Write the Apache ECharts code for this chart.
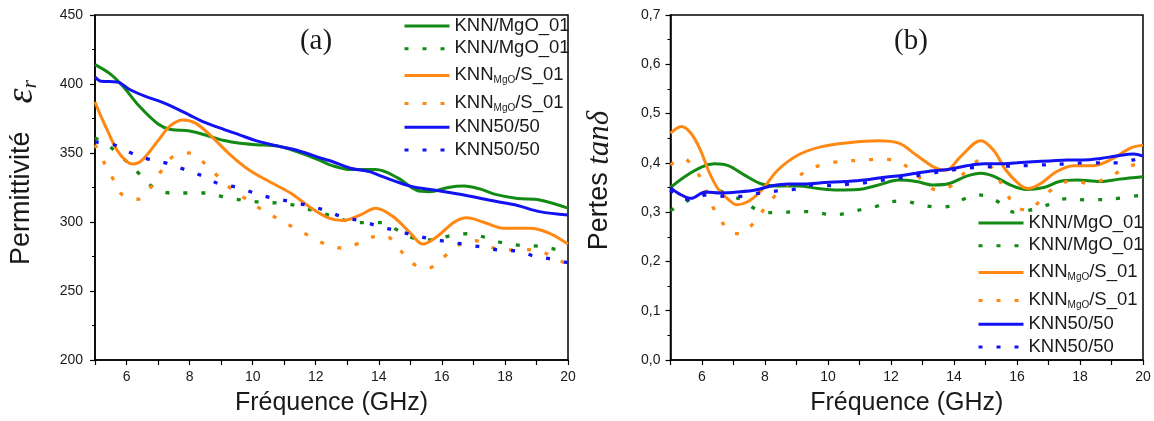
<!DOCTYPE html>
<html><head><meta charset="utf-8">
<script src="https://cdn.jsdelivr.net/npm/echarts@6/dist/echarts.min.js"></script>
<style>html,body{margin:0;padding:0;background:#fff}#c{width:1154px;height:421px}</style>
</head><body><div id="c"></div>
<script>
// ---------- Panel (a): permittivity ----------
const fEpsMgO = [5, 5.5, 5.9, 6.4, 7.0, 7.4, 8.0, 8.5, 9.1, 9.6, 10.1, 10.8, 11.4, 12.2, 12.5, 13.1, 13.9, 14.6, 15.2, 15.6, 16.2, 16.7, 17.2, 17.7, 18.4, 19.1, 20];
const epsMgO = [414, 407, 398, 384, 371, 367, 366, 363, 359, 357, 356, 355, 351, 344, 341, 338, 338, 332, 323, 322, 325, 326, 324, 320, 317, 316, 310];

const fEpsMgODot = [5, 5.5, 5.95, 6.4, 6.8, 7.4, 8.0, 8.55, 9.1, 9.35, 9.95, 10.6, 11.15, 11.65, 12.25, 12.8, 13.3, 13.6, 14.1, 14.6, 15.15, 15.7, 16.25, 16.8, 17.35, 17.9, 18.5, 19.05, 19.65, 20];
const epsMgODot = [361, 354, 345, 335, 326, 321, 321, 321, 318, 317, 315, 314, 313, 310, 306, 302, 299.5, 299.5, 299.5, 294, 288, 287, 290, 291.5, 289, 285, 283, 282.5, 280, 278];

const fEpsKS = [5, 5.2, 5.4, 5.7, 6.0, 6.2, 6.5, 7.0, 7.4, 7.8, 8.2, 8.65, 9.3, 9.9, 10.55, 11.2, 11.8, 12.4, 12.85, 13.4, 13.9, 14.45, 15.0, 15.4, 15.85, 16.4, 16.8, 17.3, 17.95, 18.8, 19.4, 20];
const epsKS = [387, 376, 366, 352, 344, 342, 345, 359, 370, 374, 371.5, 363, 348.5, 337.5, 329, 321, 311, 303, 301, 305, 310, 304, 292, 284, 289.5, 300, 303, 300, 295.5, 295.5, 292, 284];

const fEpsKSDot = [5, 5.3, 5.6, 5.85, 6.35, 6.8, 7.1, 7.45, 8.0, 8.5, 8.9, 9.3, 9.8, 10.25, 10.75, 11.3, 11.75, 12.25, 12.85, 13.35, 13.6, 14.2, 14.6, 15.0, 15.55, 16.05, 16.5, 17.05, 17.6, 17.9, 18.5, 19.0, 19.5, 20];
const epsKSDot = [356, 342.5, 330, 320, 316.5, 326, 337, 347, 350, 342, 333, 324.5, 316.5, 309.5, 303, 296, 290.5, 284.5, 281, 284.5, 288, 290, 282, 271, 266.5, 274.5, 283, 286.5, 281.5, 279.5, 280, 279.5, 275, 269];

const fEps50 = [5, 5.2, 5.7, 6.1, 6.6, 7.1, 7.6, 8.0, 8.4, 9.1, 9.6, 10.1, 10.8, 11.4, 12.2, 12.5, 13.1, 13.7, 14.1, 15.0, 15.8, 16.7, 17.7, 18.4, 19.1, 20];
const eps50 = [405, 402, 401.5, 396, 391, 387, 382, 377.5, 373, 367, 363, 359, 355, 352, 346, 344, 339, 336.5, 333, 326, 323, 319.5, 315, 312, 307.5, 305];

const fEps50Dot = [5, 5.6, 6.15, 6.7, 7.3, 7.85, 8.45, 8.95, 9.55, 10.05, 10.6, 11.25, 11.75, 12.35, 12.8, 13.4, 14.05, 14.6, 15.1, 15.7, 16.25, 16.8, 17.35, 17.85, 18.4, 18.9, 19.5, 20];
const eps50Dot = [358, 356, 350, 345.5, 342.5, 338, 333, 327.5, 325, 321, 317.5, 314.5, 312, 308, 304, 301, 296.5, 293.5, 290.5, 287.5, 285.5, 283.5, 281.5, 279.5, 279, 275.5, 273, 270.5];

// ---------- Panel (b): losses ----------
const fTanMgO = [5, 5.45, 6.0, 6.4, 6.85, 7.35, 7.9, 8.4, 9.05, 9.7, 10.3, 10.95, 11.6, 12.25, 12.8, 13.35, 13.85, 14.4, 14.85, 15.25, 15.8, 16.3, 16.85, 17.35, 17.9, 18.65, 19.25, 20];
const tanMgO = [0.350, 0.372, 0.392, 0.398, 0.394, 0.375, 0.357, 0.353, 0.353, 0.348, 0.345, 0.346, 0.355, 0.365, 0.362, 0.355, 0.358, 0.373, 0.379, 0.373, 0.355, 0.346, 0.350, 0.362, 0.365, 0.362, 0.367, 0.372];

const fTanMgODot = [5, 5.35, 5.9, 6.5, 6.9, 7.3, 7.65, 8.05, 8.5, 8.95, 9.3, 9.75, 10.2, 10.65, 11.1, 11.55, 11.9, 12.4, 12.85, 13.3, 13.55, 13.95, 14.3, 14.75, 15.1, 15.45, 15.9, 16.3, 16.7, 17.1, 17.5, 18.2, 19.05, 20];
const tanMgODot = [0.303, 0.316, 0.335, 0.344, 0.332, 0.325, 0.308, 0.299, 0.299, 0.301, 0.301, 0.298, 0.294, 0.299, 0.306, 0.312, 0.320, 0.323, 0.316, 0.311, 0.310, 0.314, 0.326, 0.335, 0.331, 0.319, 0.300, 0.303, 0.308, 0.318, 0.327, 0.325, 0.327, 0.335];

const fTanKS = [5, 5.35, 5.65, 5.95, 6.2, 6.5, 6.85, 7.1, 7.45, 7.9, 8.4, 9.05, 9.8, 10.65, 11.6, 12.25, 12.8, 13.35, 13.75, 14.2, 14.85, 15.25, 15.65, 16.1, 16.35, 16.75, 17.25, 17.8, 18.4, 19.05, 19.6, 20];
const tanKS = [0.460, 0.474, 0.460, 0.426, 0.385, 0.348, 0.325, 0.315, 0.321, 0.345, 0.385, 0.416, 0.433, 0.441, 0.445, 0.440, 0.416, 0.392, 0.385, 0.412, 0.445, 0.426, 0.385, 0.355, 0.348, 0.358, 0.382, 0.394, 0.394, 0.409, 0.430, 0.436];

const fTanKSDot = [5, 5.4, 5.75, 6.0, 6.35, 6.6, 6.85, 7.2, 7.55, 7.85, 8.2, 8.6, 8.95, 9.3, 9.7, 10.1, 10.6, 11.1, 11.5, 11.9, 12.3, 12.7, 13.0, 13.45, 13.9, 14.25, 14.9, 15.25, 15.7, 15.95, 16.35, 16.7, 17.0, 17.45, 17.75, 18.3, 18.7, 19.1, 19.4, 20];
const tanKSDot = [0.396, 0.409, 0.389, 0.364, 0.310, 0.284, 0.262, 0.256, 0.272, 0.296, 0.325, 0.350, 0.365, 0.384, 0.394, 0.400, 0.404, 0.405, 0.407, 0.407, 0.401, 0.382, 0.365, 0.345, 0.353, 0.375, 0.407, 0.385, 0.335, 0.311, 0.304, 0.321, 0.341, 0.358, 0.365, 0.358, 0.365, 0.377, 0.390, 0.400];

const fTan50 = [5, 5.25, 5.65, 6.1, 6.6, 7.15, 7.7, 8.2, 8.75, 9.25, 9.9, 10.55, 11.15, 11.8, 12.4, 12.8, 13.35, 13.85, 14.4, 14.95, 15.45, 16.0, 16.5, 17.05, 17.6, 18.1, 18.65, 19.15, 19.7, 20];
const tan50 = [0.350, 0.338, 0.328, 0.341, 0.339, 0.341, 0.345, 0.353, 0.357, 0.357, 0.360, 0.362, 0.365, 0.371, 0.375, 0.379, 0.384, 0.387, 0.394, 0.398, 0.398, 0.400, 0.402, 0.404, 0.406, 0.406, 0.409, 0.414, 0.418, 0.414];

const fTan50Dot = [5, 5.3, 5.7, 6.15, 6.5, 6.9, 7.25, 7.75, 8.15, 8.6, 9.0, 9.4, 9.8, 10.25, 10.65, 11.2, 11.6, 12.25, 12.9, 13.9, 14.5, 15.5, 16.5, 17.6, 18.2, 19.3, 19.7, 20];
const tan50Dot = [0.345, 0.328, 0.326, 0.335, 0.333, 0.332, 0.332, 0.338, 0.341, 0.345, 0.347, 0.355, 0.354, 0.354, 0.357, 0.360, 0.364, 0.369, 0.375, 0.385, 0.390, 0.393, 0.395, 0.398, 0.400, 0.400, 0.406, 0.410];

// ---------- labels ----------
// each label: [main part, subscript, rest]
const legendLabels = [['KNN/MgO_01', '', ''], ['KNN/MgO_01', '', ''], ['KNN', 'MgO', '/S_01'], ['KNN', 'MgO', '/S_01'], ['KNN50/50', '', ''], ['KNN50/50', '', '']];
const panelTitles = ['(a)', '(b)'];
const xTitle = 'Fréquence (GHz)';

const GREEN = '#138a13', ORANGE = '#ff8812', BLUE = '#1212f2';
const TXT = '#1a1a1a';
const SANS = 'Liberation Sans, Arial, sans-serif';
const SERIF = 'Liberation Serif, Times New Roman, serif';

function pairs(f, v) { return f.map((x, i) => [x, v[i]]); }
function line(name, f, v, color, dotted, gi) {
  return {
    type: 'line', name, xAxisIndex: gi, yAxisIndex: gi, data: pairs(f, v),
    symbol: 'none', showSymbol: false, smooth: 0.35, silent: true,
    lineStyle: { color, width: dotted ? 3.3 : 3, type: dotted ? [4, 14] : 'solid' },
    itemStyle: { color }
  };
}
const namesA = ['a1', 'a2', 'a3', 'a4', 'a5', 'a6'];
const namesB = ['b1', 'b2', 'b3', 'b4', 'b5', 'b6'];
function fmtLegend(name) {
  const L = legendLabels[Number(name.slice(1)) - 1];
  if (!L[1]) return '{m|' + L[0] + '}';
  return '{m|' + L[0] + '}{s|' + L[1] + '}{m|' + L[2] + '}';
}
const legendText = {
  color: TXT, fontFamily: SANS, fontSize: 18.5,
  rich: {
    m: { fontSize: 18.5, fontFamily: SANS, color: TXT, lineHeight: 20, verticalAlign: 'top' },
    s: { fontSize: 10, fontFamily: SANS, color: TXT, lineHeight: 10, padding: [14, 0, 0, 0], verticalAlign: 'bottom' }
  }
};
function legend(data, left, top) {
  return {
    data, left, top, orient: 'vertical', itemWidth: 45, itemHeight: 14, itemGap: 3.8,
    selectedMode: false, formatter: fmtLegend, textStyle: legendText, padding: 0,
    itemStyle: { opacity: 0, borderWidth: 0 },
    lineStyle: { width: 3 }
  };
}
function xAxis(gi) {
  return {
    type: 'value', gridIndex: gi, min: 5, max: 20, interval: 1,
    name: xTitle, nameLocation: 'middle', nameGap: 31,
    nameTextStyle: { fontSize: 25, fontFamily: SANS, color: TXT },
    axisLine: { lineStyle: { color: '#000', width: 1.5 } },
    axisTick: { length: 5, lineStyle: { color: '#000', width: 1.2 } },
    axisLabel: { formatter: v => (v % 2 === 0 ? String(v) : ''), margin: 10, fontSize: 14, color: TXT, fontFamily: SANS, showMaxLabel: true },
    splitLine: { show: false }
  };
}
const chart = echarts.init(document.getElementById('c'), null, { renderer: 'canvas' });
chart.setOption({
  animation: false,
  backgroundColor: '#fff',
  title: [
    { text: panelTitles[0], left: 311, top: 22, textAlign: 'center', textStyle: { fontFamily: SERIF, fontWeight: 'normal', fontSize: 29, color: TXT } },
    { text: panelTitles[1], left: 906, top: 22, textAlign: 'center', textStyle: { fontFamily: SERIF, fontWeight: 'normal', fontSize: 29, color: TXT } }
  ],
  grid: [
    { left: 95, top: 15, width: 473, height: 345, show: true, borderColor: '#000', borderWidth: 1.5, backgroundColor: 'transparent' },
    { left: 670.5, top: 15, width: 472.5, height: 345, show: true, borderColor: '#000', borderWidth: 1.5, backgroundColor: 'transparent' }
  ],
  xAxis: [xAxis(0), xAxis(1)],
  yAxis: [
    {
      type: 'value', gridIndex: 0, min: 200, max: 450, interval: 50,
      name: '{a|Permittivité}{e|ε}{r|r}', nameLocation: 'middle', nameGap: 54, nameRotate: 90,
      nameTextStyle: {
        padding: [0, 0, 0, 30],
        rich: {
          a: { fontSize: 27, fontFamily: SANS, color: TXT },
          e: { fontSize: 38, fontFamily: SERIF, fontStyle: 'italic', color: TXT, padding: [0, 0, 0, 28] },
          r: { fontSize: 22, fontFamily: SERIF, fontStyle: 'italic', color: TXT, verticalAlign: 'bottom', lineHeight: 16 }
        }
      },
      axisLine: { show: true, lineStyle: { color: '#000', width: 1.5 } },
      axisTick: { show: true, length: 5, lineStyle: { color: '#000', width: 1.2 } },
      minorTick: { show: true, splitNumber: 2, length: 3, lineStyle: { color: '#000', width: 1 } },
      axisLabel: { margin: 12, fontSize: 14, color: TXT, fontFamily: SANS },
      splitLine: { show: false }
    },
    {
      type: 'value', gridIndex: 1, min: 0, max: 0.7, interval: 0.1,
      name: '{a|Pertes }{t|tanδ}', nameLocation: 'middle', nameGap: 55, nameRotate: 90,
      nameTextStyle: {
        padding: [0, 0, 0, 14],
        rich: {
          a: { fontSize: 27, fontFamily: SANS, color: TXT },
          t: { fontSize: 31, fontFamily: SERIF, fontStyle: 'italic', color: TXT }
        }
      },
      axisLine: { show: true, lineStyle: { color: '#000', width: 1.5 } },
      axisTick: { show: true, length: 5, lineStyle: { color: '#000', width: 1.2 } },
      minorTick: { show: true, splitNumber: 2, length: 3, lineStyle: { color: '#000', width: 1 } },
      axisLabel: { margin: 10, fontSize: 14, color: TXT, fontFamily: SANS, formatter: v => v.toFixed(1).replace('.', ',') },
      splitLine: { show: false }
    }
  ],
  legend: [legend(namesA, 403, 16), legend(namesB, 977, 213)],
  series: [
    line('a1', fEpsMgO, epsMgO, GREEN, false, 0),
    line('a2', fEpsMgODot, epsMgODot, GREEN, true, 0),
    line('a3', fEpsKS, epsKS, ORANGE, false, 0),
    line('a4', fEpsKSDot, epsKSDot, ORANGE, true, 0),
    line('a5', fEps50, eps50, BLUE, false, 0),
    line('a6', fEps50Dot, eps50Dot, BLUE, true, 0),
    line('b1', fTanMgO, tanMgO, GREEN, false, 1),
    line('b2', fTanMgODot, tanMgODot, GREEN, true, 1),
    line('b3', fTanKS, tanKS, ORANGE, false, 1),
    line('b4', fTanKSDot, tanKSDot, ORANGE, true, 1),
    line('b5', fTan50, tan50, BLUE, false, 1),
    line('b6', fTan50Dot, tan50Dot, BLUE, true, 1)
  ]
});
</script></body></html>
